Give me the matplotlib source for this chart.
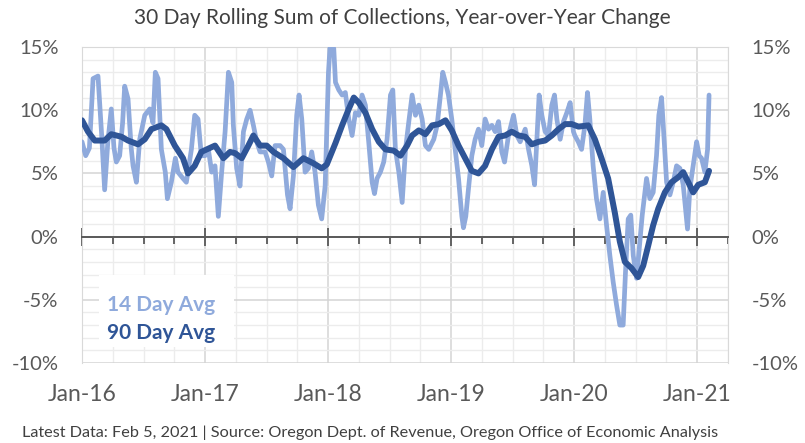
import numpy as np
import matplotlib.pyplot as plt
from matplotlib.ticker import MultipleLocator

plt.rcParams['font.family'] = ['Lato', 'DejaVu Sans']

# x values are years since Jan 2016
t14 = [0.0, 0.03, 0.06, 0.09, 0.13, 0.16, 0.184, 0.21, 0.238, 0.26, 0.279, 0.306,
       0.33, 0.347, 0.374, 0.40, 0.415, 0.442, 0.469, 0.51, 0.55, 0.577, 0.596, 0.618,
       0.645, 0.677, 0.694, 0.726, 0.759, 0.78, 0.821, 0.848, 0.889, 0.916, 0.943, 0.97,
       1.0, 1.027, 1.054, 1.081, 1.108, 1.135, 1.163, 1.19, 1.217, 1.23, 1.257, 1.284,
       1.312, 1.339, 1.366, 1.393, 1.42, 1.447, 1.488, 1.515, 1.542, 1.569, 1.61, 1.637,
       1.67, 1.691, 1.718, 1.745, 1.764, 1.786, 1.813, 1.84, 1.867, 1.894, 1.921, 1.948,
       1.976, 2.003, 2.016, 2.046, 2.06, 2.087, 2.114, 2.14, 2.168, 2.195, 2.222, 2.249,
       2.276, 2.303, 2.33, 2.358, 2.377, 2.398, 2.425, 2.452, 2.479, 2.507, 2.526, 2.547,
       2.575, 2.602, 2.629, 2.656, 2.683, 2.71, 2.737, 2.764, 2.791, 2.818, 2.859, 2.886,
       2.913, 2.932, 2.954, 2.978, 3.005, 3.033, 3.06, 3.087, 3.1, 3.119, 3.141, 3.168,
       3.195, 3.222, 3.249, 3.276, 3.304, 3.331, 3.358, 3.385, 3.412, 3.434, 3.466, 3.507,
       3.534, 3.561, 3.602, 3.629, 3.656, 3.678, 3.697, 3.715, 3.737, 3.764, 3.791, 3.818,
       3.84, 3.859, 3.886, 3.913, 3.94, 3.967, 3.994, 4.005, 4.033, 4.06, 4.087, 4.108,
       4.127, 4.154, 4.181, 4.209, 4.236, 4.263, 4.29, 4.317, 4.344, 4.371, 4.398, 4.417,
       4.439, 4.46, 4.48, 4.507, 4.526, 4.553, 4.588, 4.615, 4.642, 4.669, 4.688, 4.71,
       4.732, 4.751, 4.778, 4.805, 4.832, 4.859, 4.886, 4.921, 4.94, 4.967, 4.995, 5.016,
       5.035, 5.062, 5.084, 5.096]
v14 = [7.5, 6.4, 7.0, 12.5, 12.7, 8.0, 3.7, 7.5, 10.1, 7.0, 5.9, 6.4,
       9.0, 11.9, 10.9, 7.0, 5.6, 4.3, 7.7, 9.6, 10.1, 9.0, 13.0, 12.5,
       6.9, 5.1, 3.0, 4.3, 6.2, 5.1, 4.6, 4.3, 6.9, 9.6, 9.3, 6.4,
       6.4, 6.9, 5.1, 5.6, 1.6, 5.1, 8.3, 13.0, 12.2, 8.8, 5.4, 4.0,
       8.3, 9.3, 10.0, 8.8, 7.5, 6.7, 6.7, 5.9, 4.8, 7.2, 7.2, 6.9,
       3.3, 2.2, 4.8, 9.6, 11.2, 9.3, 5.1, 5.4, 6.7, 5.1, 2.5, 1.4,
       4.0, 13.0, 15.0, 14.9, 12.2, 11.6, 11.2, 11.4, 9.3, 8.0, 9.8, 9.6,
       11.2, 10.4, 7.5, 4.3, 3.4, 4.6, 5.1, 5.9, 7.7, 11.2, 11.6, 6.9,
       5.1, 2.7, 6.9, 9.1, 11.2, 9.6, 10.4, 9.3, 7.2, 6.9, 7.7, 8.8,
       11.2, 13.0, 12.2, 11.2, 9.3, 6.9, 4.6, 1.6, 0.7, 1.6, 3.8, 6.4,
       7.7, 8.5, 7.2, 9.3, 8.5, 8.8, 8.3, 9.1, 6.7, 5.9, 8.0, 9.6,
       8.0, 7.5, 8.5, 6.9, 5.6, 4.1, 7.7, 11.2, 9.6, 8.3, 8.0, 10.4,
       11.2, 9.3, 7.7, 9.1, 9.8, 10.6, 8.3, 8.0, 7.5, 6.9, 8.8, 11.4,
       9.3, 5.6, 3.0, 1.4, 3.5, 0.9, -1.5, -3.6, -5.4, -7.0, -7.0, -2.8,
       1.4, 1.7, -1.5, -3.3, -1.2, 1.7, 4.6, 3.0, 3.5, 6.4, 9.6, 11.0,
       7.5, 4.3, 3.3, 4.3, 5.6, 5.4, 4.1, 0.6, 3.8, 5.6, 7.5, 6.4,
       6.2, 5.1, 6.9, 11.2]

t90 = [0.0, 0.049, 0.103, 0.184, 0.238, 0.32, 0.374, 0.455, 0.51, 0.564, 0.645, 0.686,
       0.754, 0.821, 0.862, 0.916, 0.97, 1.014, 1.081, 1.149, 1.203, 1.244, 1.298, 1.352,
       1.393, 1.447, 1.501, 1.556, 1.637, 1.718, 1.799, 1.881, 1.948, 1.989, 2.06, 2.114,
       2.168, 2.209, 2.249, 2.303, 2.358, 2.412, 2.466, 2.534, 2.588, 2.642, 2.683, 2.737,
       2.791, 2.846, 2.9, 2.954, 3.005, 3.06, 3.114, 3.168, 3.222, 3.276, 3.331, 3.385,
       3.439, 3.493, 3.548, 3.602, 3.656, 3.71, 3.764, 3.818, 3.873, 3.927, 3.981, 4.035,
       4.114, 4.168, 4.222, 4.276, 4.33, 4.371, 4.412, 4.466, 4.52, 4.561, 4.602, 4.642,
       4.683, 4.737, 4.791, 4.846, 4.886, 4.927, 4.967, 5.008, 5.062, 5.096]
v90 = [9.2, 8.3, 7.6, 7.6, 8.1, 7.9, 7.6, 7.3, 7.7, 8.5, 8.8, 8.5,
       7.2, 6.2, 5.0, 5.6, 6.7, 6.9, 7.2, 6.2, 6.7, 6.6, 6.2, 7.2,
       8.0, 7.2, 7.2, 6.7, 6.2, 5.5, 6.2, 5.8, 5.4, 5.7, 7.4, 8.8,
       10.1, 11.0, 10.6, 9.8, 8.5, 7.5, 6.9, 6.8, 6.4, 7.2, 8.0, 8.4,
       8.1, 8.8, 8.9, 9.2, 8.4, 7.2, 6.2, 5.2, 5.0, 5.6, 6.9, 7.9,
       8.0, 8.3, 8.0, 7.9, 7.3, 7.5, 7.6, 8.0, 8.5, 8.9, 8.9, 8.7,
       8.8, 7.7, 6.2, 4.6, 1.9, -0.4, -2.0, -2.5, -3.2, -2.3, -0.7, 0.9,
       2.2, 3.5, 4.3, 4.7, 5.1, 4.3, 3.5, 4.1, 4.3, 5.2]

year_labels = ['Jan-16', 'Jan-17', 'Jan-18', 'Jan-19', 'Jan-20', 'Jan-21']
pct_ticks = [-10, -5, 0, 5, 10, 15]

light = '#8FAADC'
dark = '#2F5597'
grey = '#595959'

fig = plt.figure(figsize=(8.05, 4.43), dpi=100)
ax = fig.add_axes([82 / 805, 1 - 363 / 443, 646 / 805, 316 / 443])
ax.set_xlim(0, 5.25)
ax.set_ylim(-10, 15)

ax.xaxis.set_major_locator(MultipleLocator(1))
ax.xaxis.set_minor_locator(MultipleLocator(0.25))
ax.yaxis.set_major_locator(MultipleLocator(5))
ax.yaxis.set_minor_locator(MultipleLocator(1))
ax.grid(which='major', color='#d4d4d4', lw=1.1, zorder=0)
ax.grid(which='minor', color='#ececec', lw=1.0, zorder=0)
ax.set_axisbelow(True)

for s in ['top', 'left', 'right']:
    ax.spines[s].set_color('#d9d9d9')
ax.spines['bottom'].set_position(('data', 0))
ax.spines['bottom'].set_color(grey)
ax.spines['bottom'].set_linewidth(1.4)
ax.tick_params(axis='x', which='major', direction='inout', length=13, width=1.3,
               color=grey, labelbottom=False)
ax.tick_params(axis='x', which='minor', direction='out', length=5, width=1.3,
               color=grey)

ax.set_yticks(pct_ticks)
ax.set_yticklabels([f'{p}%' for p in pct_ticks])
ax.tick_params(axis='y', which='both', length=0, pad=17, labelsize=14.5, labelcolor=grey)

ax2 = ax.twinx()
ax2.set_ylim(-10, 15)
ax2.set_yticks(pct_ticks)
ax2.set_yticklabels([f'{p}%' for p in pct_ticks])
ax2.tick_params(axis='y', which='both', length=0, pad=17, labelsize=14.5, labelcolor=grey)
ax2.yaxis.set_minor_locator(MultipleLocator(1))
for s in ax2.spines.values():
    s.set_visible(False)

for i, lab in enumerate(year_labels):
    ax.text(i, -0.1, lab, transform=ax.get_xaxis_transform(), ha='center', va='center',
            fontsize=16.5, color=grey)

ax.plot(t14, v14, color=light, lw=3.4, solid_joinstyle='round', solid_capstyle='round', zorder=3)
ax.plot(t90, v90, color=dark, lw=4.3, solid_joinstyle='round', solid_capstyle='round', zorder=4)

# legend as coloured text on white
ax.add_patch(plt.Rectangle((0.026, 0.05), 0.21, 0.23, transform=ax.transAxes,
                           facecolor='white', edgecolor='none', zorder=2))
ax.text(0.038, 0.185, '14 Day Avg', transform=ax.transAxes, color=light, fontsize=15,
        fontweight='bold', va='center', zorder=5)
ax.text(0.038, 0.095, '90 Day Avg', transform=ax.transAxes, color=dark, fontsize=15,
        fontweight='bold', va='center', zorder=5)

fig.text(0.5, 1 - 18 / 443, '30 Day Rolling Sum of Collections, Year-over-Year Change',
         ha='center', va='center', fontsize=15, color='#404040')
fig.text(22 / 805, 1 - 433 / 443,
         'Latest Data: Feb 5, 2021 | Source: Oregon Dept. of Revenue, Oregon Office of Economic Analysis',
         ha='left', va='center', fontsize=11.7, color='#404040')

fig.savefig('out.png', dpi=100, facecolor='white')
